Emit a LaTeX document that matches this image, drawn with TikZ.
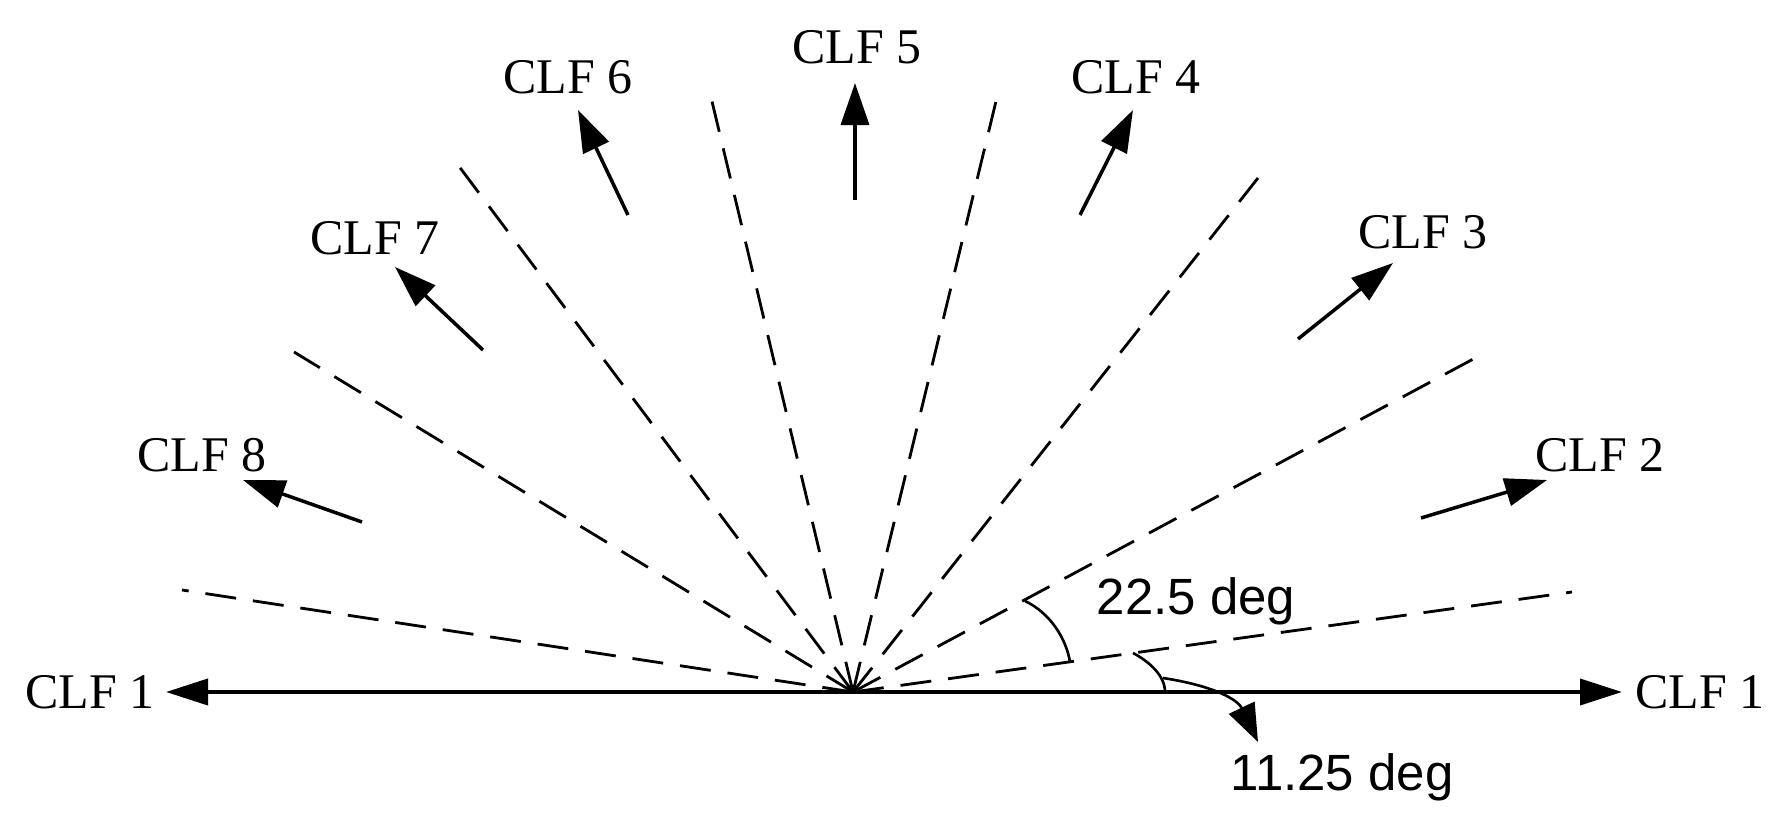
\documentclass[tikz,border=0pt]{standalone}
\usepackage{fontspec}
\setmainfont{Liberation Serif}
\newfontfamily\arialfont{Liberation Sans}
\usetikzlibrary{arrows.meta}
\begin{document}
\begin{tikzpicture}[x=0.1mm,y=-0.1mm,
  dashline/.style={line width=0.8pt, dash pattern=on 3.1mm off 1.7mm},
  dirarrow/.style={line width=1pt, -{Triangle[length=4.2mm,width=2.8mm]}},
  axisline/.style={line width=1.1pt, {Triangle[length=4.2mm,width=2.6mm]}-{Triangle[length=4.2mm,width=2.6mm]}},
  anglearc/.style={line width=0.75pt},
  leader/.style={line width=0.75pt, -{Triangle[length=3.8mm,width=2.8mm]}},
  clf/.style={font=\fontsize{14.2}{17}\selectfont, inner sep=0pt, anchor=base},
  deg/.style={font=\arialfont\fontsize{14.5}{17}\selectfont, inner sep=0pt, anchor=base}]
\useasboundingbox (0,0) rectangle (1784,822);

% centre
\coordinate (O) at (853,692);

% dashed sector boundaries
\coordinate (d1) at (1572,592);
\coordinate (d2) at (1477,357);
\coordinate (d3) at (1258,178);
\coordinate (d4) at (998,93);
\coordinate (d5) at (710,93);
\coordinate (d6) at (458,165);
\coordinate (d7) at (294,352);
\coordinate (d8) at (182,590);
\foreach \i in {1,...,8} \draw[dashline] (O) -- (d\i);

% horizontal axis CLF 1
\coordinate (a1l) at (166,692);
\coordinate (a1r) at (1622,692);
\draw[axisline] (a1l) -- (a1r);

% direction arrows
\coordinate (t2) at (1421,518); \coordinate (h2) at (1547,480);
\coordinate (t3) at (1298,339); \coordinate (h3) at (1393,263);
\coordinate (t4) at (1080,215); \coordinate (h4) at (1133,110);
\coordinate (t5) at (855,200);  \coordinate (h5) at (855,83);
\coordinate (t6) at (628,215);  \coordinate (h6) at (578,110);
\coordinate (t7) at (483,350);  \coordinate (h7) at (395,267);
\coordinate (t8) at (362,522);  \coordinate (h8) at (243,480);
\foreach \i in {2,...,8} \draw[dirarrow] (t\i) -- (h\i);

% labels
\node[clf] (L1l) at (90,708) {CLF 1};
\node[clf] (L1r) at (1700,708) {CLF 1};
\node[clf] (L2) at (1600,471) {CLF 2};
\node[clf] (L3) at (1423,248) {CLF 3};
\node[clf] (L4) at (1136,93) {CLF 4};
\node[clf] (L5) at (857,63) {CLF 5};
\node[clf] (L6) at (568,93) {CLF 6};
\node[clf] (L7) at (375,254) {CLF 7};
\node[clf] (L8) at (202,471) {CLF 8};

% angle annotations
\coordinate (g1) at (1025,601);
\coordinate (g2) at (1070,662);
\draw[anglearc] (g1) .. controls (1050,613) and (1066,638) .. (g2);
\node[deg] (deg225) at (1196,614) {22.5 deg};

\coordinate (k1) at (1133,653);
\coordinate (k2) at (1165,692);
\draw[anglearc] (k1) .. controls (1150,662) and (1165,676) .. (k2);
\coordinate (m1) at (1163,678);
\coordinate (m2) at (1258,742);
\draw[leader] (m1) .. controls (1215,686) and (1238,700) .. (m2);
\node[deg] (deg1125) at (1342,790) {11.25 deg};
\end{tikzpicture}
\end{document}
